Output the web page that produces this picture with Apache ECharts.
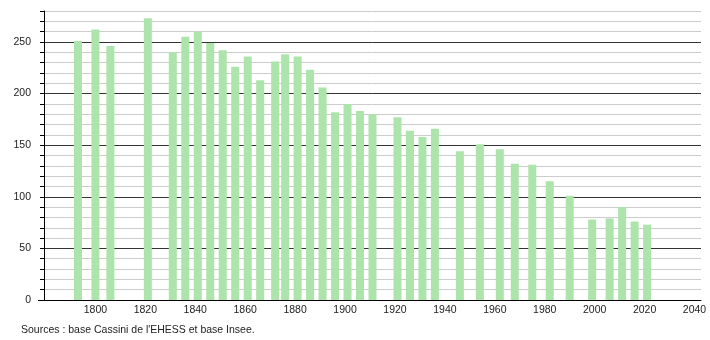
<!DOCTYPE html>
<html>
<head>
<meta charset="utf-8">
<script src="https://cdn.jsdelivr.net/npm/echarts@6/dist/echarts.min.js"></script>
<style>html,body{margin:0;padding:0;background:#fff}#c{width:710px;height:340px}</style>
</head>
<body>
<div id="c"></div>
<script>
const years = [1793,1800,1806,1821,1831,1836,1841,1846,1851,1856,1861,1866,1872,1876,1881,1886,1891,1896,1901,1906,1911,1921,1926,1931,1936,1946,1954,1962,1968,1975,1982,1990,1999,2006,2011,2016,2021];
const population = [251,262,246,273,240,255,260,249,242,226,236,213,231,238,236,223,206,182,190,183,180,177,164,158,166,144,151,146,132,131,115,101,78,79,90,76,73];
const xTickLabels = [1800,1820,1840,1860,1880,1900,1920,1940,1960,1980,2000,2020,2040];
const sourceText = "Sources : base Cassini de l'EHESS et base Insee.";

const chart = echarts.init(document.getElementById('c'), null, {renderer: 'canvas'});
const font = 'Liberation Sans, Arial, sans-serif';
chart.setOption({
  animation: false,
  grid: {left: 44, right: 9, top: 11, bottom: 40},
  xAxis: {
    type: 'value', min: 1779.4, max: 2042.6,
    axisLine: {show: true, lineStyle: {color: '#000', width: 1}},
    axisTick: {show: false},
    splitLine: {show: false},
    axisLabel: {customValues: xTickLabels, color: '#222', fontSize: 10.5, fontFamily: font, margin: 5,
      formatter: v => String(v)}
  },
  yAxis: [
    {
      type: 'value', min: 0, max: 280, interval: 10,
      axisLine: {show: true, lineStyle: {color: '#000'}},
      axisTick: {show: true, length: 4, lineStyle: {color: '#000'}},
      axisLabel: {show: false},
      splitLine: {show: true, lineStyle: {color: '#cccccc', width: 1}}
    },
    {
      type: 'value', min: 0, max: 280, interval: 50, position: 'left',
      axisLine: {show: false},
      axisTick: {show: false},
      axisLabel: {color: '#222', fontSize: 10.5, fontFamily: font, margin: 13, showMaxLabel: false,
        formatter: v => (v % 50 === 0 ? String(v) : '')},
      splitLine: {show: true, showMaxLine: false, lineStyle: {color: '#333', width: 1}}
    }
  ],
  series: [{
    type: 'bar',
    yAxisIndex: 0,
    barWidth: 8,
    itemStyle: {color: '#ade4ab'},
    data: years.map((y, i) => [y, population[i]])
  }],
  graphic: [
    {type: 'line', shape: {x1: 38, y1: 300.5, x2: 44, y2: 300.5}, style: {stroke: '#000', lineWidth: 1}},
    {type: 'text', left: 21, top: 325,
     style: {text: sourceText, fill: '#222', font: '10.5px ' + font}}
  ]
});
</script>
</body>
</html>
